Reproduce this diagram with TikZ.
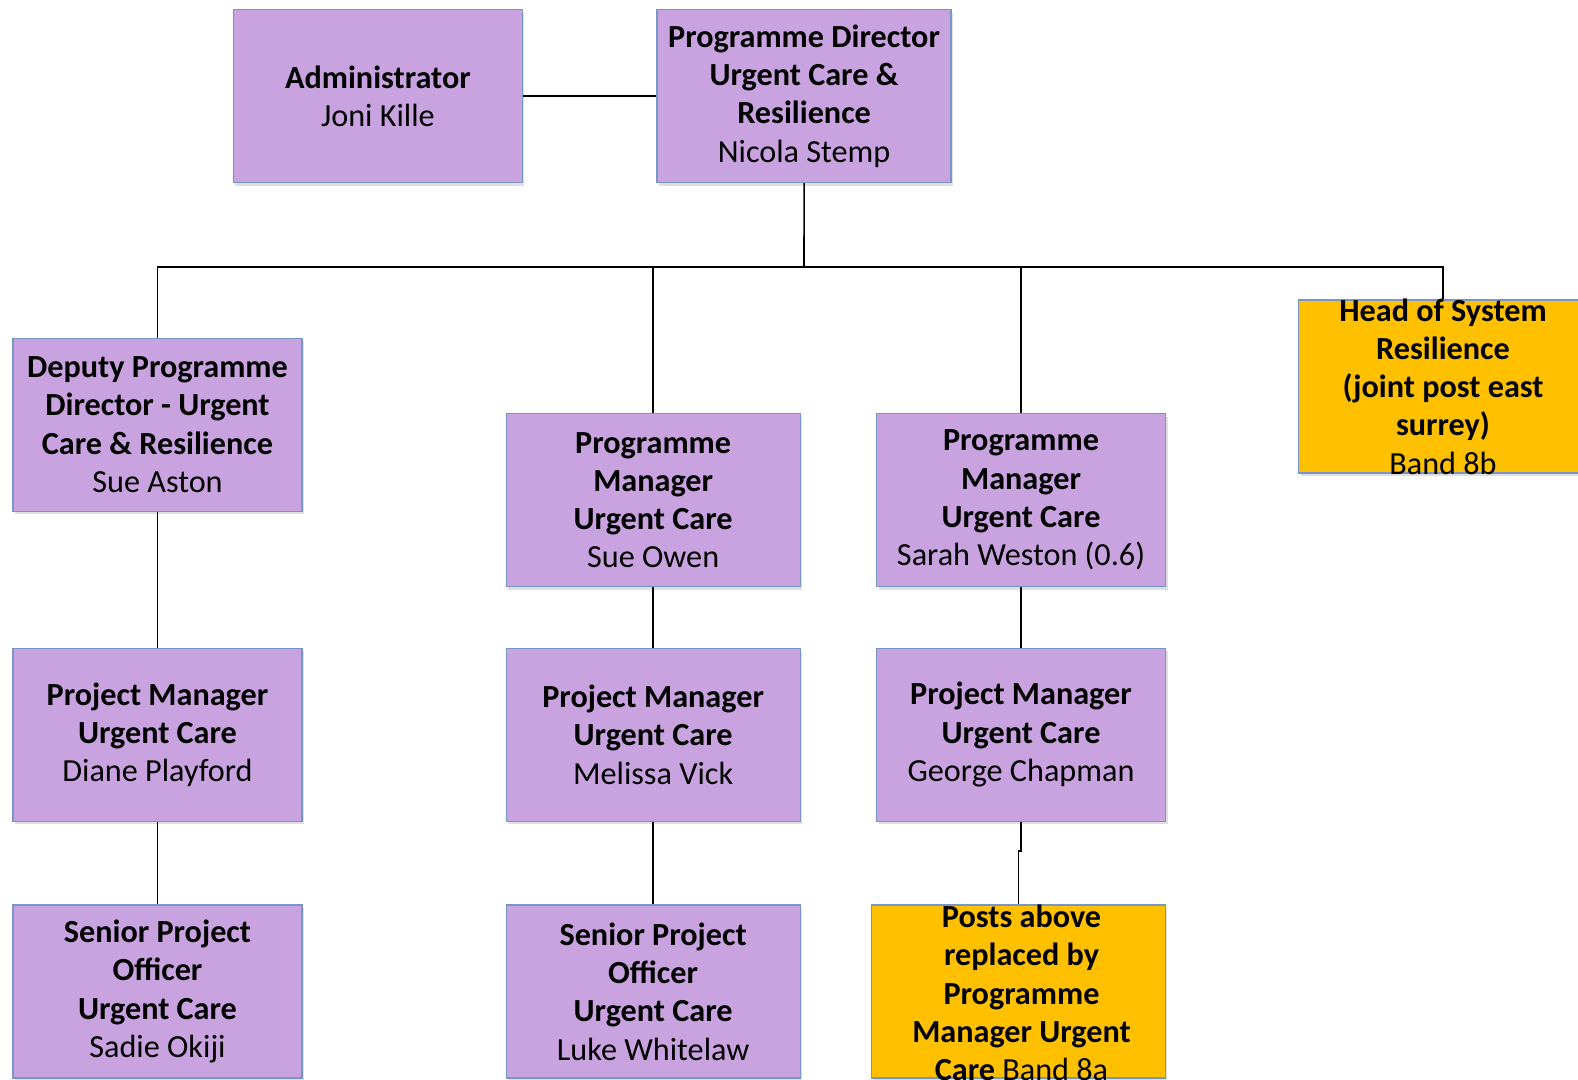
\documentclass[tikz,border=0pt]{standalone}
\usepackage{fontspec}
\setmainfont{Carlito}
\usetikzlibrary{shadows}
\definecolor{lav}{RGB}{201,162,224}
\definecolor{edgeblue}{RGB}{120,150,195}
\definecolor{gold}{RGB}{255,192,0}
\begin{document}
\begin{tikzpicture}[x=1pt,y=-1pt,
  box/.style={draw=edgeblue, line width=1.3pt, fill=lav, minimum width=289pt, minimum height=173pt,
    inner sep=0pt, align=center, font=\fontsize{32.2}{38.3}\selectfont,
    drop shadow={opacity=0.25,shadow xshift=2pt,shadow yshift=-3pt}},
  wide/.style={minimum width=294pt},
  gbox/.style={box, fill=gold},
  txt/.style={align=center, inner sep=0pt, font=\fontsize{32.2}{38.3}\selectfont},
  link/.style={line width=1.6pt, black}]
\useasboundingbox (0,0) rectangle (1578,1079);
\clip (0,0) rectangle (1578,1079);
\node[box] (adm) at (377.9,96) {\textbf{Administrator}\\Joni Kille};
\node[box,wide] (dir) at (804.1,96) {\textbf{Programme Director}\\\textbf{Urgent Care \&}\\\textbf{Resilience}\\Nicola Stemp};
\node[box] (dep) at (157.5,424.7) {\textbf{Deputy Programme}\\\textbf{Director - Urgent}\\\textbf{Care \& Resilience}\\Sue Aston};
\node[box,wide] (pm1) at (653.15,500.2) {\textbf{Programme}\\\textbf{Manager}\\\textbf{Urgent Care}\\Sue Owen};
\node[box] (pm2) at (1021,500.2) {\textbf{Programme}\\\textbf{Manager}\\\textbf{Urgent Care}\\Sarah Weston (0.6)};
\node[gbox] (head) at (1443,386.5) {};
\node[txt] (headtxt) at (head.center) {\textbf{Head of System}\\\textbf{Resilience}\\\textbf{(joint post east}\\\textbf{surrey)}\\Band 8b};
\node[box] (pj1) at (157.5,734.7) {\textbf{Project Manager}\\\textbf{Urgent Care}\\Diane Playford};
\node[box,wide] (pj2) at (653.15,734.7) {\textbf{Project Manager}\\\textbf{Urgent Care}\\Melissa Vick};
\node[box] (pj3) at (1021,734.7) {\textbf{Project Manager}\\\textbf{Urgent Care}\\George Chapman};
\node[box] (sp1) at (157.5,991.4) {\textbf{Senior Project}\\\textbf{Officer}\\\textbf{Urgent Care}\\Sadie Okiji};
\node[box,wide] (sp2) at (653.15,991.4) {\textbf{Senior Project}\\\textbf{Officer}\\\textbf{Urgent Care}\\Luke Whitelaw};
\node[gbox,wide] (posts) at (1018.4,991.4) {};
\node[txt] (poststxt) at (1021.5,993) {\textbf{Posts above}\\\textbf{replaced by}\\\textbf{Programme}\\\textbf{Manager Urgent}\\\textbf{Care} Band 8a};
\coordinate (bus) at (804,267);
\coordinate (jog) at (1021,851);
\draw[link] (adm.east) -- (dir.west);
\draw[link] (dir.south) -- (bus);
\draw[link] (dep.north) |- (bus) -| (head.north);
\draw[link] (pm1.north) -- (pm1.north |- bus);
\draw[link] (pm2.north) -- (pm2.north |- bus);
\draw[link] (dep.south) -- (pj1.north);
\draw[link] (pm1.south) -- (pj2.north);
\draw[link] (pm2.south) -- (pj3.north);
\draw[link] (pj1.south) -- (sp1.north);
\draw[link] (pj2.south) -- (sp2.north);
\draw[link] (pj3.south) -- (pj3.south |- jog) -| (posts.north);
\end{tikzpicture}
\end{document}
